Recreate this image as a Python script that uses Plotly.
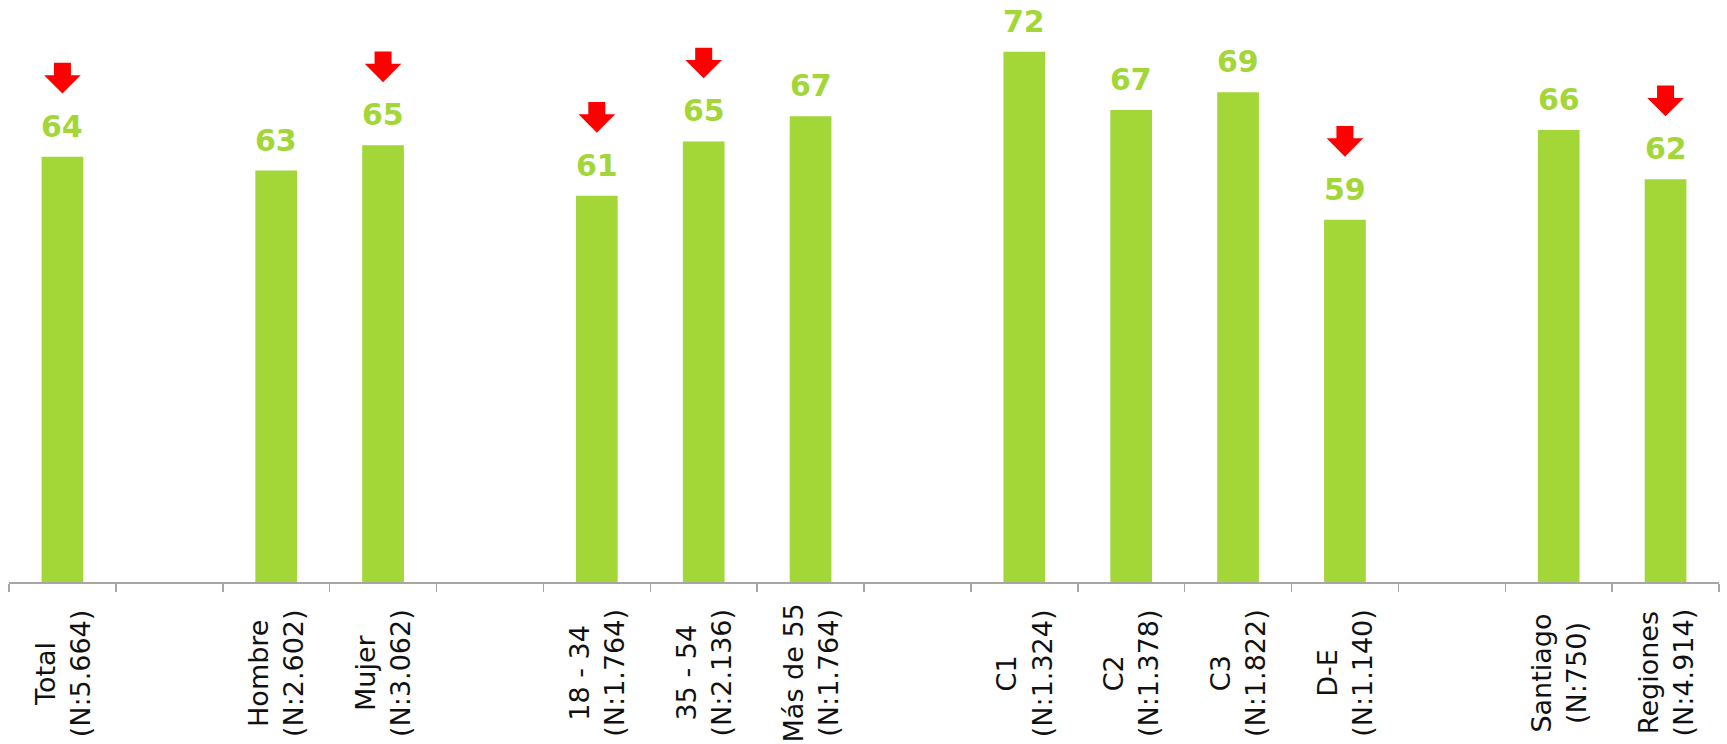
import plotly.graph_objects as go

# ---- data ----
categorias = ["Total", "Hombre", "Mujer", "18 - 34", "35 - 54", "Más de 55",
              "C1", "C2", "C3", "D-E", "Santiago", "Regiones"]
muestras = ["5.664", "2.602", "3.062", "1.764", "2.136", "1.764",
            "1.324", "1.378", "1.822", "1.140", "750", "4.914"]
valores = [63.7, 62.6, 64.6, 60.6, 64.9, 66.9, 72.0, 67.4, 68.8, 58.7, 65.8, 61.9]
baja = [True, False, True, True, True, False, False, False, False, True, False, True]
# axis order, with empty separator slots between groups
orden_eje = ["Total", "sep1", "Hombre", "Mujer", "sep2", "18 - 34", "35 - 54", "Más de 55",
             "sep3", "C1", "C2", "C3", "D-E", "sep4", "Santiago", "Regiones"]

VERDE = "#A3D637"
ROJO = "#FF0000"
FUENTE = "DejaVu Sans"

fig = go.Figure()
fig.add_trace(go.Bar(x=categorias, y=valores, marker=dict(color=VERDE, line=dict(width=0)),
                     hoverinfo="skip"))

annotations = []
shapes = []
ARROW_OFFSET = 5.0  # axis units above the bar top where the arrow tip sits
arrow_path = ("M -18.3 18.3 L -8.5 18.3 L -8.5 30.7 L 8.5 30.7 L 8.5 18.3 "
              "L 18.3 18.3 L 0 0 Z")

for cat, n, v, b in zip(categorias, muestras, valores, baja):
    annotations.append(dict(x=cat, y=v, xref="x", yref="y", text=f"<b>{round(v)}</b>",
                            showarrow=False, yanchor="bottom", xanchor="center", yshift=11,
                            font=dict(family=FUENTE, size=30, color=VERDE)))
    annotations.append(dict(x=cat, y=-0.16, xref="x", yref="paper",
                            text=f"{cat}<br>(N:{n})", showarrow=False, textangle=-90,
                            xanchor="center", yanchor="middle", align="center",
                            font=dict(family=FUENTE, size=27, color="#111111")))
    if b:
        shapes.append(dict(type="path", xref="x", yref="y", xsizemode="pixel",
                           ysizemode="pixel", xanchor=cat, yanchor=v + ARROW_OFFSET,
                           path=arrow_path, fillcolor=ROJO, line=dict(width=0)))

fig.update_layout(
    width=1727, height=744,
    margin=dict(l=9, r=8, t=14, b=162),
    paper_bgcolor="white", plot_bgcolor="white",
    bargap=0.61,
    showlegend=False,
    annotations=annotations,
    shapes=shapes,
    xaxis=dict(type="category", categoryorder="array", categoryarray=orden_eje,
               range=[-0.5, len(orden_eje) - 0.5],
               showticklabels=False, showgrid=False, zeroline=False,
               showline=True, linecolor="#A6A6A6", linewidth=1.5,
               ticks="outside", tickson="boundaries", ticklen=8, tickcolor="#A6A6A6",
               tickwidth=1.5),
    yaxis=dict(range=[30, 75], showticklabels=False, showgrid=False, zeroline=False,
               showline=False, ticks=""),
)

fig.write_html("out.html", config={"displayModeBar": False, "staticPlot": True},
               post_script="document.body.style.margin='0px';document.body.style.overflow='hidden';")
